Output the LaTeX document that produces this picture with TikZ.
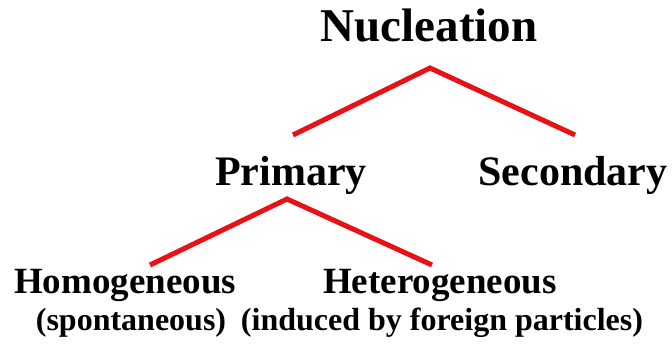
\documentclass[tikz,border=0pt]{standalone}
\usepackage{fontspec}
\setmainfont{Liberation Serif}
\definecolor{linkred}{RGB}{232,18,22}
\tikzset{
    head/.style={anchor=base, inner sep=0pt, font=\fontsize{47}{50}\selectfont\bfseries},
    lvl/.style={anchor=base, inner sep=0pt, font=\fontsize{42}{46}\selectfont\bfseries},
    sub/.style={anchor=base, inner sep=0pt, font=\fontsize{37}{40}\selectfont\bfseries},
    note/.style={anchor=base, inner sep=0pt, font=\fontsize{32}{36}\selectfont\bfseries},
    link/.style={draw=linkred, line width=5pt},
}

\begin{document}
\begin{tikzpicture}[x=1pt, y=-1pt]
\useasboundingbox (0,0) rectangle (672,345);

% Top
\node[head] (nuc) at (429,42) {Nucleation};

% Second level
\node[lvl] (prim) at (291,185) {Primary};
\node[lvl] (sec) at (573,185) {Secondary};

% Third level
\node[sub] (homo) at (125,293) {Homogeneous};
\node[sub] (het) at (440,293) {Heterogeneous};
\node[note] (spon) at (131,330) {(spontaneous)};
\node[note] (ind) at (442,330) {(induced by foreign particles)};

% Branches
\draw[link] ([xshift=2pt, yshift=50pt]prim.base) -- ([xshift=1pt, yshift=-26pt]nuc.base) -- ([xshift=2pt, yshift=50pt]sec.base);
\draw[link] ([xshift=25pt, yshift=28pt]homo.base) -- ([xshift=-4pt, yshift=-14pt]prim.base) -- ([xshift=-8pt, yshift=28pt]het.base);

\end{tikzpicture}
\end{document}
